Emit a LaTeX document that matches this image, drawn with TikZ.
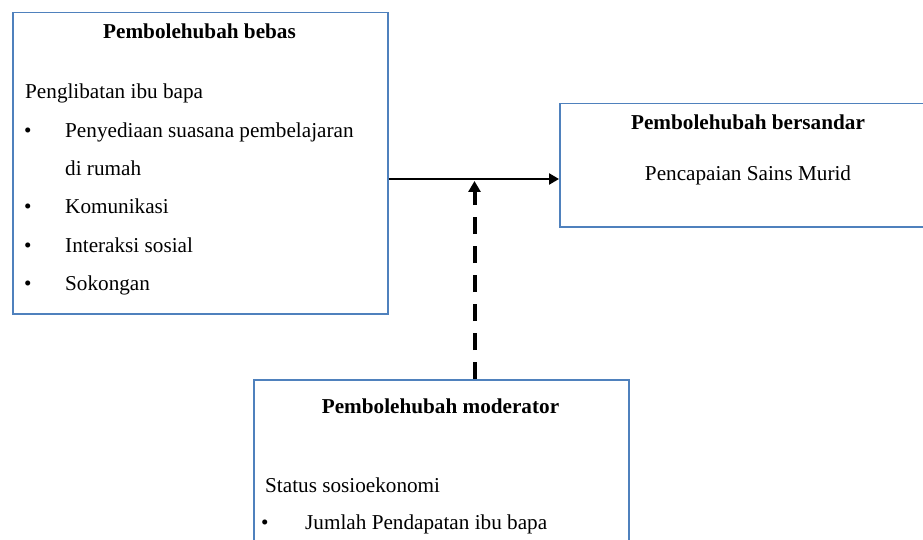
\documentclass[tikz,border=0pt]{standalone}
\usepackage{fontspec}
\setmainfont{Liberation Serif}
\usetikzlibrary{arrows.meta,calc}
\definecolor{boxblue}{RGB}{79,129,189}
\begin{document}
\begin{tikzpicture}[x=1pt,y=-1pt,
  box/.style={draw=boxblue,line width=1.5pt,rectangle,inner sep=0pt,anchor=north west},
  txt/.style={inner sep=0pt,font=\fontsize{21.2}{25}\selectfont},
  ttl/.style={inner sep=0pt,font=\fontsize{21.2}{25}\selectfont\bfseries,anchor=base},
  lft/.style={txt,anchor=base west},
  link/.style={line width=2.7pt,-{Triangle[length=10pt,width=11pt]}},
  modlink/.style={line width=4pt,dash pattern=on 17pt off 12pt,-{Triangle[length=11pt,width=12pt]}}]
\useasboundingbox (0,0) rectangle (923,540);
% boxes
\node[box,minimum width=375pt,minimum height=301pt] (iv) at (12,12) {};
\node[box,minimum width=378pt,minimum height=123pt] (dv) at (559,103) {};
\node[box,minimum width=375pt,minimum height=180pt] (mv) at (253,379) {};
% left box text
\node[ttl] (t1) at (199.5,39) {Pembolehubah bebas};
\node[lft] (l0) at (25,99) {Penglibatan ibu bapa};
\node[lft] (b1) at (24,138) {•};
\node[lft] (l1) at (65,138) {Penyediaan suasana pembelajaran};
\node[lft] (l2) at (65,176) {di rumah};
\node[lft] (b3) at (24,214) {•};
\node[lft] (l3) at (65,214) {Komunikasi};
\node[lft] (b4) at (24,252) {•};
\node[lft] (l4) at (65,252) {Interaksi sosial};
\node[lft] (b5) at (24,290) {•};
\node[lft] (l5) at (65,290) {Sokongan};
% right box text
\node[ttl] (t2) at (748,130) {Pembolehubah bersandar};
\node[txt,anchor=base] (r1) at (748,181) {Pencapaian Sains Murid};
% bottom box text
\node[ttl] (t3) at (440.5,413) {Pembolehubah moderator};
\node[lft] (m0) at (265,492) {Status sosioekonomi};
\node[lft] (mb) at (261,529) {•};
\node[lft] (m1) at (305,529) {Jumlah Pendapatan ibu bapa};
% connectors
\coordinate (m) at (474.5,179);
\draw[link] (iv.east |- m) -- (dv.west |- m);
\draw[modlink] (mv.north -| m) -- ($(m)+(0,2)$);
\end{tikzpicture}
\end{document}
